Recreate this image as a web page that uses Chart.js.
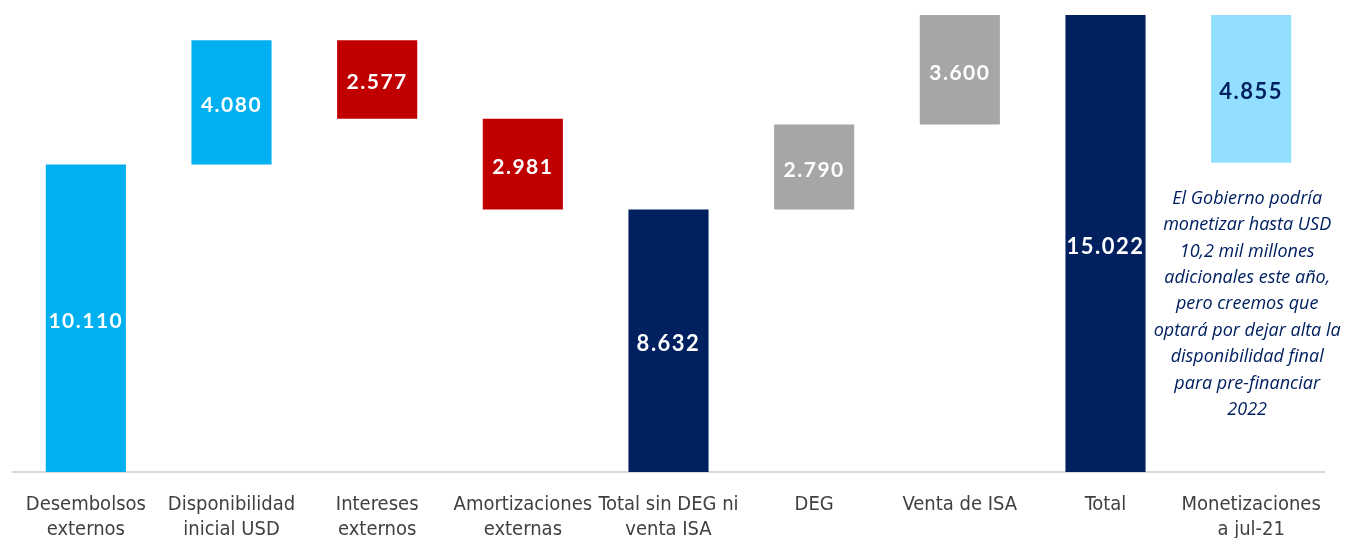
<!DOCTYPE html>
<html>
<head>
<meta charset="utf-8">
<script src="https://cdn.jsdelivr.net/npm/chart.js@4.4.1/dist/chart.umd.min.js"></script>
<style>
html,body{margin:0;padding:0;background:#fff;overflow:hidden;}
#wrap{width:1348px;height:538px;position:relative;overflow:hidden;}
</style>
</head>
<body>
<div id="wrap"><canvas id="c" width="1348" height="538"></canvas></div>
<script>
const categories = [
  ["Desembolsos","externos"],
  ["Disponibilidad","inicial USD"],
  ["Intereses","externos"],
  ["Amortizaciones","externas"],
  ["Total sin DEG ni","venta ISA"],
  ["DEG"],
  ["Venta de ISA"],
  ["Total"],
  ["Monetizaciones","a jul-21"]
];
const values = [10110, 4080, 2577, 2981, 8632, 2790, 3600, 15022, 4855];
const bases  = [0, 10110, 11613, 8632, 0, 8632, 11422, 0, 10167];
const valueLabels = ["10.110","4.080","2.577","2.981","8.632","2.790","3.600","15.022","4.855"];
const barColors = ["#00B0F0","#00B0F0","#C00000","#C00000","#002060","#A6A6A6","#A6A6A6","#002060","#93DFFF"];
const labelColors = ["#FFFFFF","#FFFFFF","#FFFFFF","#FFFFFF","#FFFFFF","#FFFFFF","#FFFFFF","#FFFFFF","#002060"];
const noteLines = [
  "El Gobierno podría",
  "monetizar hasta USD",
  "10,2 mil millones",
  "adicionales este año,",
  "pero creemos que",
  "optará por dejar alta la",
  "disponibilidad final",
  "para pre-financiar",
  "2022"
];
const yMax = 15022;

const floating = values.map((v, i) => [bases[i], bases[i] + v]);

const labelPlugin = {
  id: 'barLabels',
  afterDatasetsDraw(chart) {
    const ctx = chart.ctx;
    const meta = chart.getDatasetMeta(0);
    ctx.save();
    ctx.textAlign = 'center';
    ctx.textBaseline = 'middle';
    meta.data.forEach((bar, i) => {
      const size = (i === 4 || i === 7 || i === 8) ? 22 : 21;
      ctx.font = 'bold ' + size + 'px Lato, "Open Sans", sans-serif';
      try { ctx.letterSpacing = '1.5px'; } catch (e) {}
      ctx.fillStyle = labelColors[i];
      const yMid = (bar.y + bar.base) / 2;
      ctx.fillText(valueLabels[i], bar.x, yMid + 3);
    });
    try { ctx.letterSpacing = '0px'; } catch (e) {}
    // annotation
    const xs = chart.scales.x, ys = chart.scales.y;
    const x = xs.getPixelForValue(8) - 4;
    const yTop = ys.getPixelForValue(bases[8]) + 36;
    ctx.font = 'italic 18px "Open Sans", Lato, sans-serif';
    ctx.fillStyle = '#002060';
    noteLines.forEach((t, k) => {
      ctx.fillText(t, x, yTop + k * 26.4);
    });
    ctx.restore();
  }
};

new Chart(document.getElementById('c'), {
  type: 'bar',
  data: {
    labels: categories,
    datasets: [{
      data: floating,
      backgroundColor: barColors,
      borderWidth: 0,
      barPercentage: 0.55,
      categoryPercentage: 1.0
    }]
  },
  options: {
    responsive: false,
    animation: false,
    layout: { padding: { left: 13, right: 24, top: 15, bottom: -24 } },
    plugins: { legend: { display: false }, tooltip: { enabled: false } },
    scales: {
      x: {
        grid: { display: false, drawTicks: false },
        border: { display: true, color: '#D9D9D9', width: 2 },
        ticks: {
          color: '#404040',
          padding: 20,
          maxRotation: 0,
          autoSkip: false,
          font: { family: '"DejaVu Sans Condensed", "Open Sans", sans-serif', size: 20, lineHeight: 1.25 }
        }
      },
      y: {
        display: false,
        min: 0,
        max: yMax
      }
    }
  },
  plugins: [labelPlugin]
});
</script>
</body>
</html>
